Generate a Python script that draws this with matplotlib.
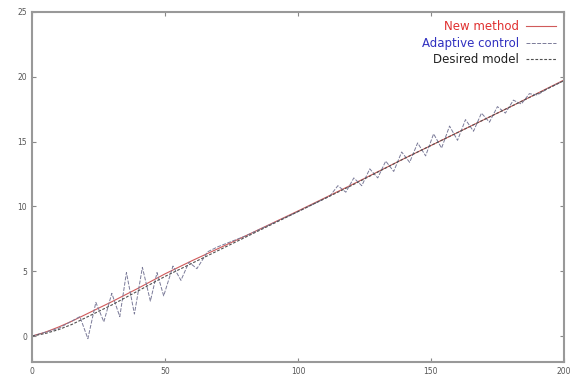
import matplotlib
matplotlib.use("Agg")
import matplotlib.pyplot as plt

# Desired model
x_des = [0, 5, 10, 15, 20, 25, 30, 40, 50, 60, 70, 80, 100, 120, 140, 160, 180, 200]
y_des = [0, 0.2, 0.5, 0.9, 1.4, 1.9, 2.4, 3.5, 4.6, 5.6, 6.6, 7.6, 9.6, 11.6, 13.7, 15.7, 17.7, 19.7]

# New method
x_new = [0, 5, 10, 15, 20, 25, 30, 40, 50, 60, 70, 80, 100, 120, 140, 160, 180, 200]
y_new = [0, 0.3, 0.7, 1.15, 1.65, 2.15, 2.65, 3.7, 4.8, 5.8, 6.75, 7.7, 9.65, 11.65, 13.7, 15.7, 17.7, 19.75]

# Adaptive control
x_ad = [0, 10, 18, 21, 24, 27, 30, 33, 35.5, 38.5, 41.5, 44.5, 47, 49.5, 53, 56, 59, 62, 66, 70, 80, 100,
        112, 115, 118, 121, 124, 127, 130, 133, 136, 139, 142, 145, 148, 151, 154, 157, 160, 163, 166,
        169, 172, 175, 178, 181, 184, 187, 190, 194, 200]
y_ad = [0, 0.6, 1.5, -0.2, 2.6, 1.1, 3.3, 1.5, 4.9, 1.7, 5.3, 2.7, 4.9, 3.1, 5.4, 4.3, 5.7, 5.2, 6.5, 6.9, 7.7, 9.6,
        10.8, 11.6, 11.1, 12.2, 11.6, 12.9, 12.2, 13.5, 12.7, 14.2, 13.4, 14.9, 13.9, 15.6, 14.5, 16.2, 15.1,
        16.7, 15.8, 17.2, 16.5, 17.7, 17.2, 18.2, 17.9, 18.7, 18.6, 19.1, 19.7]

fig = plt.figure(figsize=(5.76, 3.83), dpi=100)
ax = fig.add_axes([0.0556, 0.0548, 0.9234, 0.9139])

l1, = ax.plot(x_new, y_new, color="#d05a5a", lw=0.8, label="New method")
l2, = ax.plot(x_ad, y_ad, color="#7a7a98", lw=0.7, ls=(0, (4, 1.5)), label="Adaptive control")
l3, = ax.plot(x_des, y_des, color="#505050", lw=0.8, ls=(0, (2.5, 1.5)), label="Desired model")

ax.set_xlim(0, 200)
ax.set_ylim(-2, 25)
ax.set_xticks([0, 50, 100, 150, 200])
ax.set_yticks([0, 5, 10, 15, 20, 25])
ax.tick_params(direction="in", top=True, right=True, length=3, width=0.8,
               colors="#888888", labelsize=5.5, labelcolor="#555555")
for s in ax.spines.values():
    s.set_color("#999999")
    s.set_linewidth(1.5)

leg = ax.legend(handles=[l1, l2, l3], loc="upper right", frameon=False, markerfirst=False,
                fontsize=8.5, handlelength=2.5, handletextpad=0.6, labelspacing=0.3,
                borderaxespad=0.3)
for t, c in zip(leg.get_texts(), ["#e03030", "#3030c0", "#202020"]):
    t.set_color(c)
    t.set_ha("right")

fig.savefig("out.png", dpi=100)
